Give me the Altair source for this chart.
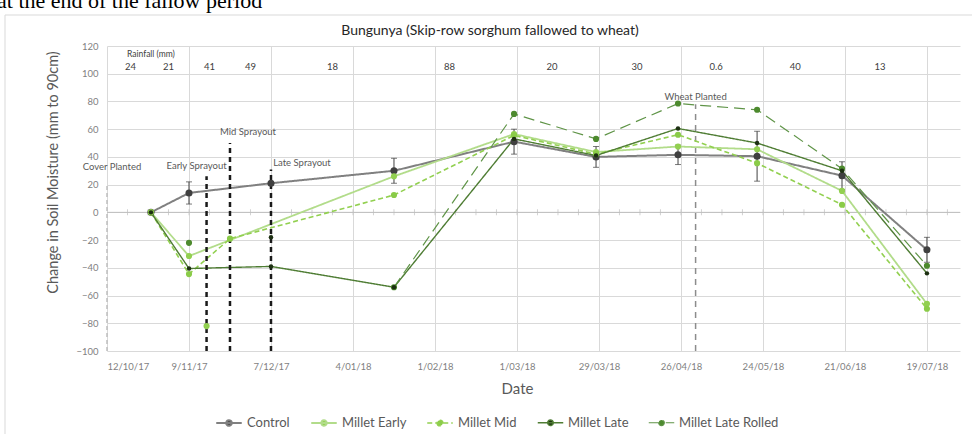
import altair as alt
import pandas as pd

# ---------------------------------------------------------------- data
TITLE = "Bungunya (Skip-row sorghum fallowed to wheat)"
HEADER = "at the end of the fallow period"

SERIES = ["Control", "Millet Early", "Millet Mid", "Millet Late", "Millet Late Rolled"]

SAMPLE_DATES = [
    "2017-10-27", "2017-11-09", "2017-11-15", "2017-11-23", "2017-12-07",
    "2018-01-18", "2018-02-28", "2018-03-28", "2018-04-25", "2018-05-22",
    "2018-06-20", "2018-07-19",
]
CONTROL = [0, 14, None, None, 21, 30, 51, 40, 41.5, 40.5, 26.5, -27]
MILLET_EARLY = [0, -31.5, None, None, None, 26, 56.5, 43.5, 47.5, 45.5, 15.5, -66]
MILLET_MID = [0, -44.5, None, -19, None, 12.5, 55.5, 42, 56, 35.5, 5.5, -69.5]
MILLET_LATE = [0, -40.5, None, None, -39, -54, 53, 41, 60.5, 50, 30, -44]
MILLET_LATE_ROLLED = [None, None, None, None, None, -54, 71, 53, 78.5, 74, 31.5, -38.5]

CONTROL_ERR = [None, 8, None, None, None, 9, 9, 7.5, 7, 18, 10, 9]

# single readings not joined to their series' line
LONE_SERIES = ["Millet Early", "Millet Late Rolled", "Millet Late"]
LONE_DATES = ["2017-11-15", "2017-11-09", "2017-12-07"]
LONE_VALUES = [-82, -22, -18]

# management events
EVENT_NAMES = ["Cover Planted", "Early Sprayout", "Mid Sprayout", "Late Sprayout", "Wheat Planted"]
EVENT_DATES = ["2017-10-12", "2017-11-15", "2017-11-23", "2017-12-07", "2018-05-01"]
EVENT_TOPS = [20, 26, 50, 31, 78]

# rainfall between samplings (mm)
RAIN_MM = ["24", "21", "41", "49", "18", "88", "20", "30", "0.6", "40", "13"]
RAIN_DATES = [
    "2017-10-20", "2017-11-02", "2017-11-16", "2017-11-30", "2017-12-28",
    "2018-02-06", "2018-03-13", "2018-04-11", "2018-05-08", "2018-06-04",
    "2018-07-03",
]

TICK_DATES = [
    "2017-10-12", "2017-11-09", "2017-12-07", "2018-01-04", "2018-02-01",
    "2018-03-01", "2018-03-29", "2018-04-26", "2018-05-24", "2018-06-21",
    "2018-07-19",
]

# ---------------------------------------------------------------- styling
FONT = "Lato"
LINE_COLORS = ["#808080", "#b2dc8a", "#92d050", "#4f7d34", "#5f9447"]
MARKER_COLORS = ["#404040", "#92d050", "#8acb48", "#1d3012", "#4d8a2e"]
DASHES = [[1, 0], [1, 0], [5, 3], [1, 0], [11, 6]]
WIDTHS = [2, 1.2, 2, 2, 2.2]
# marker area by group of series
MARKER_GROUPS = [(["Control"], 50), (["Millet Early", "Millet Mid", "Millet Late Rolled"], 38), (["Millet Late"], 20)]

W, H = 853, 305
PAD = {"left": 107, "top": 46, "right": 12, "bottom": 83}
X_TITLE = "Date"
Y_TITLE = "Change in Soil Moisture (mm to 90cm)"


def dt(s):
    t = pd.Timestamp(s)
    return alt.DateTime(year=t.year, month=t.month, date=t.day, utc=True)


rows = []
for name, vals in zip(SERIES, [CONTROL, MILLET_EARLY, MILLET_MID, MILLET_LATE, MILLET_LATE_ROLLED]):
    for d, v in zip(SAMPLE_DATES, vals):
        if v is not None:
            rows.append({"series": name, "date": d, "value": v})
obs = pd.DataFrame(rows)

lone = pd.DataFrame({"series": LONE_SERIES, "date": LONE_DATES, "value": LONE_VALUES})

err_rows = [
    {"date": d, "lo": v - e, "hi": v + e}
    for d, v, e in zip(SAMPLE_DATES, CONTROL, CONTROL_ERR)
    if e is not None and v is not None
]
err = pd.DataFrame(err_rows)

events = pd.DataFrame({"event": EVENT_NAMES, "date": EVENT_DATES, "top": EVENT_TOPS, "bottom": -100})
rain = pd.DataFrame({"mm": RAIN_MM, "date": RAIN_DATES})
minor = pd.DataFrame({"date": pd.date_range("2017-10-19", "2018-07-26", freq="7D").strftime("%Y-%m-%d")})

x_scale = alt.Scale(type="utc", domain=[dt("2017-10-12"), alt.DateTime(year=2018, month=7, date=30, hours=7, utc=True)])
y_scale = alt.Scale(domain=[-100, 120], nice=False)

x_axis = alt.Axis(
    values=[dt(d) for d in TICK_DATES], format="%-d/%m/%y", grid=True, gridColor="#d9d9d9",
    domain=False, ticks=False, labelPadding=10, labelFont=FONT, labelFontSize=9.5,
    labelColor="#7f7f7f", labelBaseline="top", labelOverlap=False,
    titleFont=FONT, titleFontSize=15, titleFontWeight="normal", titleColor="#595959",
    titleX=410, titleY=37, titleBaseline="middle", titleAlign="center",
)
y_axis = alt.Axis(
    values=list(range(-100, 121, 20)), grid=True, gridColor="#d9d9d9", domain=False, ticks=False,
    labelPadding=9, labelFont=FONT, labelFontSize=9.5, labelColor="#7f7f7f", labelOverlap=False,
    titleFont=FONT, titleFontSize=14.5, titleFontWeight="normal", titleColor="#595959",
    titleAngle=270, titleX=-54, titleY=126, titleAlign="center", titleBaseline="middle",
)

# every layer carries the same axis definition so the merged axes agree
Xp = alt.X("date:T", scale=x_scale, axis=x_axis, title=X_TITLE)


def Yp(field):
    return alt.Y(field, scale=y_scale, axis=y_axis, title=Y_TITLE)


def Yd(v):
    return alt.YDatum(v, scale=y_scale, axis=y_axis, title=Y_TITLE)


LEGEND_SYMBOL = "M-1,0H1M-0.22,0A0.22,0.22,0,1,0,0.22,0A0.22,0.22,0,1,0,-0.22,0Z"
legend = alt.Legend(
    title=None, orient="none", legendX=108, legendY=363, direction="horizontal",
    symbolType=LEGEND_SYMBOL, symbolSize=650, symbolStrokeWidth=2,
    labelFont=FONT, labelFontSize=13, labelColor="#595959", labelOffset=4, columnPadding=17,
)

stroke_enc = alt.Stroke("series:N", scale=alt.Scale(domain=SERIES, range=LINE_COLORS), legend=legend)
dash_enc = alt.StrokeDash("series:N", scale=alt.Scale(domain=SERIES, range=DASHES), legend=legend)
width_enc = alt.StrokeWidth("series:N", scale=alt.Scale(domain=SERIES, range=WIDTHS), legend=None)
fill_enc = alt.Fill("series:N", scale=alt.Scale(domain=SERIES, range=MARKER_COLORS), legend=legend)

# chart frame and heading text above it
frame = alt.Chart(pd.DataFrame({"k": [0]})).mark_rect(
    fillOpacity=0, stroke="#d9d9d9", strokeWidth=1
).encode(x=alt.value(-102), x2=alt.value(875), y=alt.value(-31), y2=alt.value(420))

header = alt.Chart(pd.DataFrame({"t": [HEADER]})).mark_text(
    font="Liberation Serif", fontSize=22, align="left", baseline="alphabetic", color="#000000"
).encode(x=alt.value(-110), y=alt.value(-38), text="t:N")

title = alt.Chart(pd.DataFrame({"t": [TITLE]})).mark_text(
    font=FONT, fontSize=14, align="center", baseline="middle", color="#262626"
).encode(x=alt.value(383), y=alt.value(-15), text="t:N")

# axes carrier (grid, labels, titles)
axes = alt.Chart(obs).mark_point(opacity=0).encode(x=Xp, y=Yp("value:Q"))

zero = alt.Chart(pd.DataFrame({"v": [0]})).mark_rule(color="#bfbfbf", strokeWidth=1).encode(y=Yp("v:Q"))
minor_ticks = alt.Chart(minor).mark_tick(orient="vertical", size=6, thickness=1, color="#bfbfbf").encode(
    x=Xp, y=Yd(0)
)

# rainfall header row
rain_head = alt.Chart(pd.DataFrame({"t": ["Rainfall (mm)"], "date": ["2017-10-27"]})).mark_text(
    font=FONT, fontSize=8.5, color="#404040", baseline="middle"
).encode(x=Xp, y=Yd(114), text="t:N")
rain_txt = alt.Chart(rain).mark_text(font=FONT, fontSize=9.5, color="#404040", baseline="middle").encode(
    x=Xp, y=Yd(105.2), text="mm:N"
)

# event lines
ev = alt.Chart(events)
cover_rule = ev.transform_filter(alt.datum.event == "Cover Planted").mark_rule(
    color="#bfbfbf", strokeWidth=1.5, strokeDash=[4, 3]
).encode(x=Xp, y=Yp("bottom:Q"), y2="top:Q")
spray_rule = ev.transform_filter(alt.expr.indexof(alt.datum.event, "Sprayout") >= 0).mark_rule(
    color="#1a1a1a", strokeWidth=2.5, strokeDash=[5, 4]
).encode(x=Xp, y=Yp("bottom:Q"), y2="top:Q")
wheat_rule = ev.transform_filter(alt.datum.event == "Wheat Planted").mark_rule(
    color="#8c8c8c", strokeWidth=1.5, strokeDash=[6, 5]
).encode(x=Xp, y=Yp("bottom:Q"), y2="top:Q")

# event labels: horizontal shift (px) and height (y units) of each caption
LABEL_DX = {"Cover Planted": 5, "Early Sprayout": -10, "Mid Sprayout": 18, "Late Sprayout": 31, "Wheat Planted": 0}
LABEL_Y = {"Cover Planted": 33, "Early Sprayout": 33.5, "Mid Sprayout": 58, "Late Sprayout": 35.5, "Wheat Planted": 83.5}
event_labels = [
    ev.transform_filter(alt.datum.event == name).mark_text(
        font=FONT, fontSize=9.5, color="#595959", dx=LABEL_DX[name], baseline="middle"
    ).encode(x=Xp, y=Yd(LABEL_Y[name]), text="event:N")
    for name in EVENT_NAMES
]

# series
lines = alt.Chart(obs).mark_line().encode(
    x=Xp, y=Yp("value:Q"), stroke=stroke_enc, strokeDash=dash_enc, strokeWidth=width_enc,
    order="date:T",
)
err_rule = alt.Chart(err).mark_rule(color="#404040", strokeWidth=1).encode(x=Xp, y=Yp("lo:Q"), y2="hi:Q")
err_lo = alt.Chart(err).mark_tick(orient="horizontal", size=6, thickness=1, color="#404040").encode(
    x=Xp, y=Yp("lo:Q")
)
err_hi = alt.Chart(err).mark_tick(orient="horizontal", size=6, thickness=1, color="#404040").encode(
    x=Xp, y=Yp("hi:Q")
)

marker_layers = []
for names, area in MARKER_GROUPS:
    for src in (obs, lone):
        marker_layers.append(
            alt.Chart(src).transform_filter(alt.FieldOneOfPredicate(field="series", oneOf=names))
            .mark_point(filled=True, shape="circle", strokeWidth=0, opacity=1, size=area)
            .encode(x=Xp, y=Yp("value:Q"), fill=fill_enc)
        )

chart = alt.layer(
    frame, header, title, axes, zero, minor_ticks, rain_head, rain_txt,
    cover_rule, wheat_rule, lines, spray_rule, err_rule, err_lo, err_hi, *marker_layers,
    *event_labels,
).properties(
    width=W, height=H, padding=PAD, autosize=alt.AutoSizeParams(type="none"), background="white",
).configure_view(stroke=None).configure_axisY(labelOverlap=False)

chart.save("out.html", embed_options={"renderer": "svg", "actions": False})
